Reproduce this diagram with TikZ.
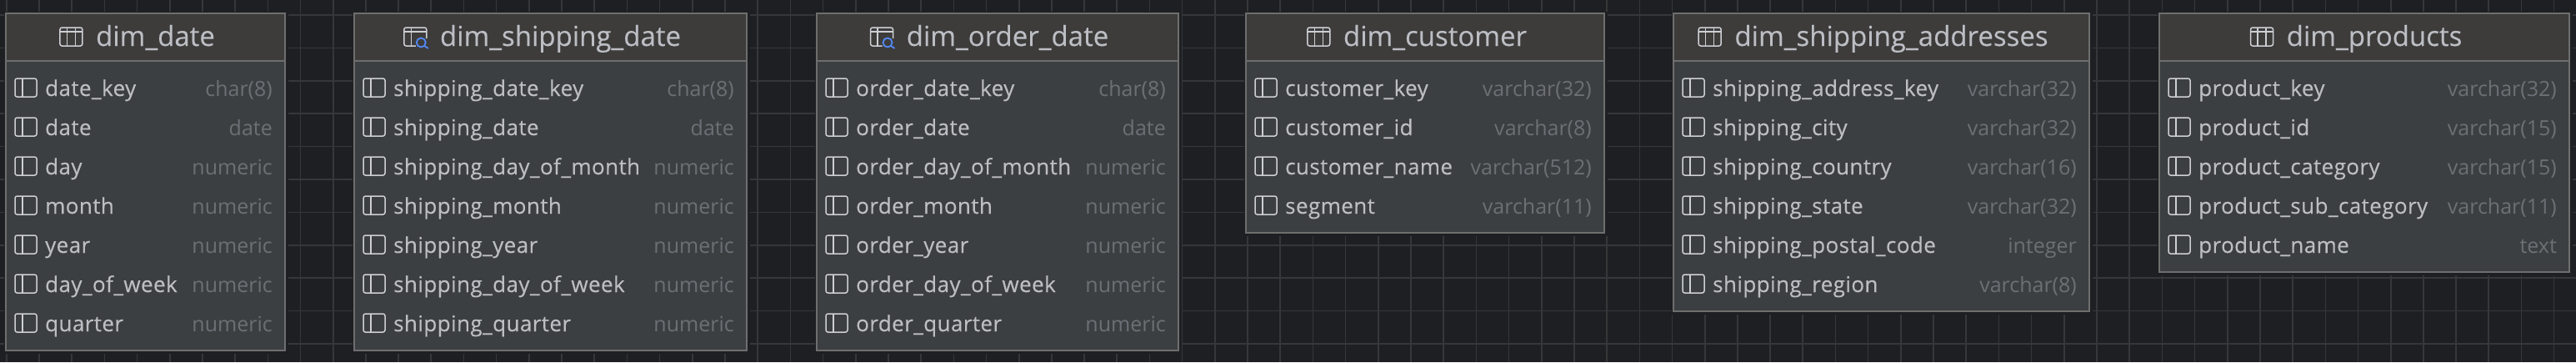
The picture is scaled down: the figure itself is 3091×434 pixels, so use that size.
\documentclass[tikz,border=0pt]{standalone}
\usepackage{fontspec}
\setmainfont{Open Sans}
\newfontfamily\rowfont[LetterSpace=1.6,FakeBold=0.25]{Open Sans}
\newfontfamily\typefont{Open Sans}
\newfontfamily\headfont[FakeBold=0.25]{Open Sans}
\definecolor{bgc}{HTML}{1E1F22}
\definecolor{gridc}{HTML}{363739}
\definecolor{headc}{HTML}{3D3C3B}
\definecolor{bodyc}{HTML}{3C3F41}
\definecolor{edgec}{HTML}{6E6E6E}
\definecolor{namec}{HTML}{BCBEC4}
\definecolor{typec}{HTML}{6C7076}
\definecolor{iconc}{HTML}{CDCFD4}
\definecolor{viewc}{HTML}{548AF7}
\tikzset{
  x=1pt,y=-1pt,
  gridline/.style={draw=gridc,line width=1.6pt},
  tablebody/.style={draw=edgec,fill=bodyc,line width=2pt},
  tablehead/.style={draw=edgec,fill=headc,line width=2pt},
  rowname/.style={text=namec,font=\rowfont\fontsize{26}{30}\selectfont,anchor=base west,inner sep=0pt},
  rowtype/.style={text=typec,font=\typefont\fontsize{25}{30}\selectfont,anchor=base east,inner sep=0pt},
  headname/.style={text=namec,font=\headfont\fontsize{33}{38}\selectfont,anchor=base,inner sep=0pt},
  iconline/.style={draw=iconc,line width=1.5pt},
  viewline/.style={draw=viewc,line width=1.8pt}
}
% #1 id, #2 left, #3 right, #4 number of rows, #5 header icon, #6 title, #7 rows
\newcommand\erdtable[7]{%
  \pgfmathsetmacro\yb{105+47*(#4-1)+33}
  \fill[bgc] (#2-2,14) rectangle (#3+4,\yb+4);
  \draw[tablebody] (#2,16) rectangle (#3,\yb);
  \draw[tablehead] (#2,16) rectangle (#3,72.5);
  \pgfmathsetmacro\xc{(#2+#3)/2+12}
  \node[headname] (#1h) at (\xc,55) {#6};
  #5{#1h}
  \foreach \c/\t [count=\i from 0] in {#7}{
    \pgfmathsetmacro\yr{105+47*\i}
    \draw[iconline,rounded corners=2.5pt] (#2+11,\yr-11) rectangle (#2+37,\yr+11);
    \draw[iconline] (#2+20,\yr-11) -- (#2+20,\yr+11);
    \node[rowname] (#1n\i) at (#2+47,\yr+10) {\c};
    \node[rowtype] (#1t\i) at (#3-15,\yr+10) {\t};
  }
}
\newcommand\tableicon[1]{%
  \begin{scope}[shift={(#1.base west)}]
    \draw[iconline,rounded corners=2.5pt] (-43,-22) rectangle (-16,0);
    \draw[iconline] (-43,-17) -- (-16,-17);
    \draw[iconline] (-34.5,-22) -- (-34.5,0) (-24.5,-22) -- (-24.5,0);
  \end{scope}}
\newcommand\viewicon[1]{%
  \begin{scope}[shift={(#1.base west)}]
    \draw[iconline,rounded corners=2.5pt] (-29,0) -- (-43,0) -- (-43,-22) -- (-16,-22) -- (-16,-9);
    \draw[iconline] (-43,-17) -- (-16,-17);
    \draw[iconline] (-34.5,-22) -- (-34.5,0);
    \draw[viewline] (-22.5,-4) circle (5.5pt);
    \draw[viewline] (-18.5,0) -- (-14,3);
  \end{scope}}
\begin{document}
\begin{tikzpicture}
\useasboundingbox (0,0) rectangle (3091,434);
\fill[bgc] (0,0) rectangle (3091,434);
\foreach \k in {0,...,78}{
  \draw[gridline] (7.8+39.19*\k,0) -- (7.8+39.19*\k,434);
}
\foreach \k in {0,...,10}{
  \draw[gridline] (0,18+39.4*\k) -- (3091,18+39.4*\k);
}
\erdtable{a}{7}{342}{7}{\tableicon}{dim\_date}{date\_key/char(8),date/date,day/numeric,month/numeric,year/numeric,day\_of\_week/numeric,quarter/numeric}
\erdtable{b}{425}{896}{7}{\viewicon}{dim\_shipping\_date}{shipping\_date\_key/char(8),shipping\_date/date,shipping\_day\_of\_month/numeric,shipping\_month/numeric,shipping\_year/numeric,shipping\_day\_of\_week/numeric,shipping\_quarter/numeric}
\erdtable{c}{980}{1414}{7}{\viewicon}{dim\_order\_date}{order\_date\_key/char(8),order\_date/date,order\_day\_of\_month/numeric,order\_month/numeric,order\_year/numeric,order\_day\_of\_week/numeric,order\_quarter/numeric}
\erdtable{d}{1495}{1925}{4}{\tableicon}{dim\_customer}{customer\_key/varchar(32),customer\_id/varchar(8),customer\_name/varchar(512),segment/varchar(11)}
\erdtable{e}{2008}{2507}{6}{\tableicon}{dim\_shipping\_addresses}{shipping\_address\_key/varchar(32),shipping\_city/varchar(32),shipping\_country/varchar(16),shipping\_state/varchar(32),shipping\_postal\_code/integer,shipping\_region/varchar(8)}
\erdtable{f}{2591}{3083}{5}{\tableicon}{dim\_products}{product\_key/varchar(32),product\_id/varchar(15),product\_category/varchar(15),product\_sub\_category/varchar(11),product\_name/text}
\end{tikzpicture}
\end{document}
